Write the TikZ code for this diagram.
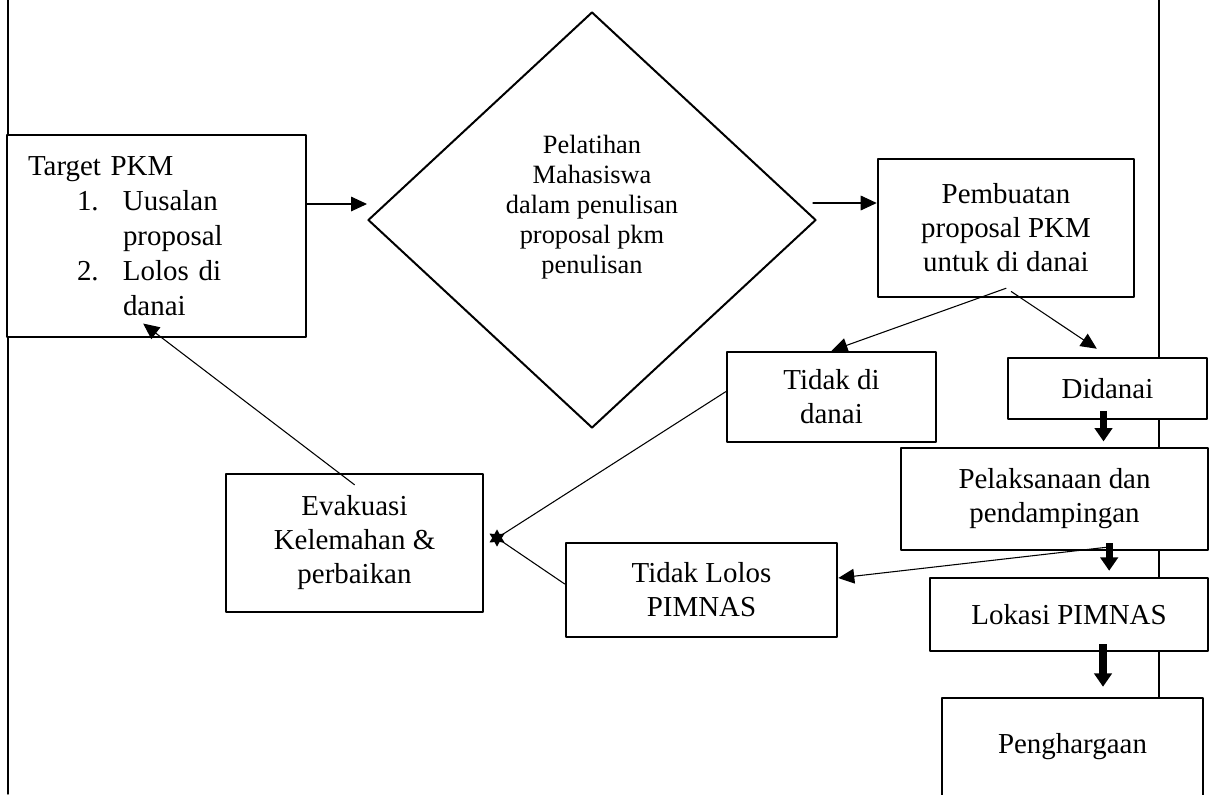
\documentclass[tikz,border=0pt]{standalone}
\usepackage{fontspec}
\setmainfont{Liberation Serif}
\usetikzlibrary{arrows.meta}
\usetikzlibrary{shapes.geometric}

\begin{document}
\begin{tikzpicture}[line cap=round,line join=round,x=0.75pt,y=-0.75pt,
  box/.style={draw,line width=1.9pt,fill=white,inner sep=0pt,align=center,
    font=\fontsize{21.7pt}{25.5pt}\selectfont},
  arr/.style={line width=0.8pt,-{Triangle[length=12pt,width=11pt]}},
  fatarr/.style={line width=5.5pt,line cap=butt,-{Triangle[length=10pt,width=13pt]}}]
      \useasboundingbox (0,0) rectangle (1209,794);
      \clip (0,0) rectangle (1209,794);
      \coordinate (ltop) at (8,0);
      \coordinate (lbot) at (8,794);
      \coordinate (rtop) at (1159,0);
      \coordinate (rbot) at (1159,794);
      \draw[line width=1pt] (ltop) -- (lbot);
      \draw[line width=1pt] (rtop) -- (rbot);
      \node[box,line width=0.8pt,align=left,text width=192.75pt,inner xsep=15.75pt,minimum height=151.5pt,
        font=\fontsize{21.7pt}{26.25pt}\selectfont] (target) at (156.5,236)
        {Target PKM\\
         \hspace*{36.75pt}\makebox[34.5pt][l]{1.}Uusalan\\
         \hspace*{71.25pt}proposal\\
         \hspace*{36.75pt}\makebox[34.5pt][l]{2.}Lolos di\\
         \hspace*{71.25pt}danai};
      \node[draw,diamond,line width=1.5pt,fill=white,inner sep=0pt,minimum width=336pt,minimum height=312pt] (pelatihan) at (592,220) {};
      \node[align=center,font=\fontsize{19.8pt}{22.5pt}\selectfont] (pelatihantxt) at ([yshift=9.75pt]pelatihan.center)
        {Pelatihan\\Mahasiswa\\dalam penulisan\\proposal pkm\\penulisan};
      \node[box,minimum width=192pt,minimum height=103.5pt] (pembuatan) at (1006,228) {Pembuatan\\proposal PKM\\untuk di danai};
      \node[box,minimum width=156.75pt,minimum height=67.5pt] (tidakdanai) at (831.5,397) {Tidak di\\danai};
      \node[box,minimum width=149.25pt,minimum height=45.75pt] (didanai) at (1107.5,388.5) {Didanai};
      \node[box,minimum width=230.25pt,minimum height=76.5pt] (pelaksanaan) at (1054.5,499) {Pelaksanaan dan\\pendampingan};
      \node[box,minimum width=208.5pt,minimum height=54.75pt] (lokasi) at (1069,614.5) {Lokasi PIMNAS};
      \node[box,minimum width=195.75pt,minimum height=73.5pt] (penghargaan) at (1072.5,747) {Penghargaan};
      \node[box,minimum width=192.75pt,minimum height=103.5pt] (evakuasi) at (354.5,543) {Evakuasi\\Kelemahan \&\\perbaikan};
      \node[box,minimum width=203.25pt,minimum height=70.5pt] (tidaklolos) at (701.5,590) {Tidak Lolos\\PIMNAS};
      \node[star,star points=6,star point ratio=1.8,fill=black,inner sep=0pt,minimum size=13pt] (temu) at (497,538) {};
      \draw[arr] ([yshift=24pt]target.east) -- ([yshift=12pt]pelatihan.west);
      \draw[arr] ([xshift=-3pt,yshift=12.75pt]pelatihan.east) -- ([yshift=18.75pt]pembuatan.west);
      \draw[arr] ([yshift=7.5pt]pembuatan.south) -- (tidakdanai.north);
      \draw[arr] ([xshift=4pt,yshift=5pt]pembuatan.south) -- ([xshift=-8pt,yshift=6pt]didanai.north);
      \draw[fatarr] ([xshift=-3pt,yshift=7pt]didanai.south) -- ([xshift=-3pt,yshift=4pt]didanai.south |- pelaksanaan.north);
      \draw[arr] ([xshift=39pt,yshift=3pt]pelaksanaan.south) -- ([yshift=9pt]tidaklolos.east);
      \draw[fatarr] ([xshift=41pt,yshift=6pt]pelaksanaan.south) -- ([xshift=41pt,yshift=4.5pt]pelaksanaan.south |- lokasi.north);
      \draw[fatarr] ([xshift=25.5pt,yshift=6pt]lokasi.south) -- ([xshift=25.5pt,yshift=7.5pt]lokasi.south |- penghargaan.north);
      \draw[line width=0.8pt] ([yshift=4pt]tidakdanai.west) -- (temu.center);
      \draw[line width=0.8pt] ([yshift=4.5pt]tidaklolos.west) -- (temu.center);
      \draw[arr] ([yshift=-9pt]evakuasi.north) -- ([xshift=-10pt,yshift=10.5pt]target.south);
    \end{tikzpicture}
\end{document}
